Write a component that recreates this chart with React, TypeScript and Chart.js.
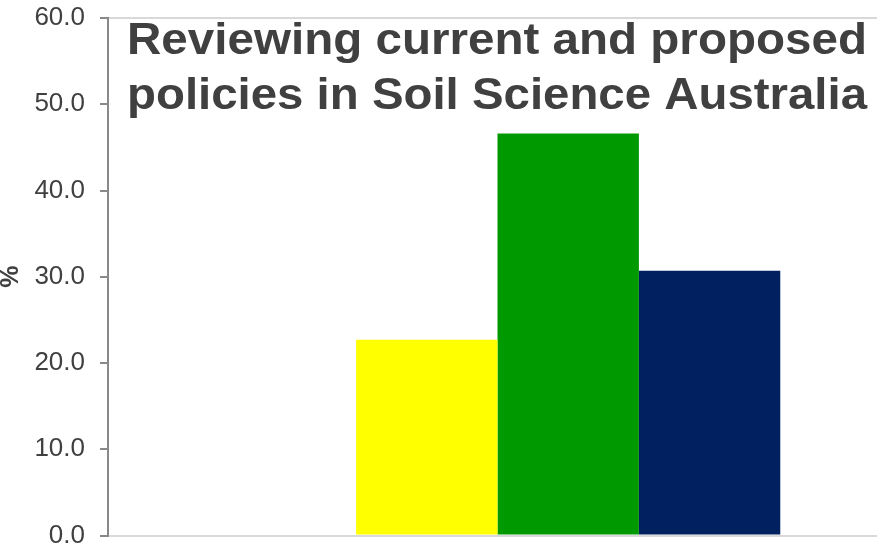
import { useEffect, useRef } from 'react';
import { Chart, registerables } from 'chart.js';

Chart.register(...registerables);

const categories = [''];
const seriesNames = ['Series 1', 'Series 2', 'Series 3', 'Series 4'];
const seriesValues = [0, 22.7, 46.6, 30.7];
const seriesColors = ['rgba(0,0,0,0)', '#FFFF00', '#009900', '#002060'];
const yTicks = [0, 10, 20, 30, 40, 50, 60];
const titleLines = ['Reviewing current and proposed', 'policies in Soil Science Australia'];
const yAxisTitle = '%';

const FONT = '"Liberation Sans", Arial, Helvetica, sans-serif';
const TEXT = '#404040';

const insideTitle = {
  id: 'insideTitle',
  afterDraw(chart: any) {
    const { ctx, chartArea } = chart;
    const left = chartArea.left + 19;
    const right = chartArea.left + 759;
    const baselines = [chartArea.top + 36, chartArea.top + 91];
    ctx.save();
    ctx.fillStyle = TEXT;
    ctx.font = `bold 45px ${FONT}`;
    ctx.textBaseline = 'alphabetic';
    ctx.textAlign = 'left';
    titleLines.forEach((line, i) => {
      const w = ctx.measureText(line).width;
      const sx = (right - left) / w;
      ctx.save();
      ctx.translate(left, baselines[i]);
      ctx.scale(sx, 1);
      ctx.fillText(line, 0, 0);
      ctx.restore();
    });
    ctx.restore();
  },
};

export default function App() {
  const canvasRef = useRef<HTMLCanvasElement | null>(null);

  useEffect(() => {
    if (!canvasRef.current) return;
    const chart = new Chart(canvasRef.current, {
      type: 'bar',
      data: {
        labels: categories,
        datasets: seriesNames.map((name, i) => ({
          label: name,
          data: [seriesValues[i]],
          backgroundColor: seriesColors[i],
          borderWidth: 0,
          categoryPercentage: 0.726,
          barPercentage: 1,
        })),
      },
      options: {
        responsive: false,
        animation: false,
        devicePixelRatio: 1,
        layout: { padding: { top: 18, bottom: 11.5, left: 0, right: 0 } },
        plugins: {
          legend: { display: false },
          tooltip: { enabled: false },
          title: { display: false },
        },
        scales: {
          x: {
            display: true,
            ticks: { display: false },
            grid: { display: false, drawTicks: false },
            border: { display: true, color: '#d9d9d9', width: 2 },
          },
          y: {
            min: 0,
            max: 60,
            afterBuildTicks: (scale: any) => {
              scale.ticks = yTicks.map((v) => ({ value: v }));
            },
            afterFit: (scale: any) => {
              scale.width = 108;
              scale.paddingTop = 0;
              scale.paddingBottom = 0;
            },
            ticks: {
              callback: (v: any) => Number(v).toFixed(1),
              color: TEXT,
              padding: 15,
              font: { family: FONT, size: 26, lineHeight: 0.9 },
            },
            grid: {
              color: (c: any) => (c.tick && c.tick.value === 60 ? '#d9d9d9' : 'rgba(0,0,0,0)'),
              lineWidth: 2,
              tickColor: '#898989',
              tickLength: 8,
              tickWidth: 2,
            },
            border: { display: true, color: '#898989', width: 2 },
            title: {
              display: true,
              text: yAxisTitle,
              color: TEXT,
              padding: 0,
              font: { family: FONT, size: 25, weight: 'bold', lineHeight: 0.9 },
            },
          },
        },
      },
      plugins: [insideTitle],
    } as any);
    return () => chart.destroy();
  }, []);

  return (
    <div
      style={{
        position: 'absolute',
        left: 0,
        top: 0,
        width: 877,
        height: 547,
        overflow: 'hidden',
        background: '#ffffff',
      }}
    >
      <canvas ref={canvasRef} width={887} height={547} style={{ display: 'block' }} />
    </div>
  );
}
